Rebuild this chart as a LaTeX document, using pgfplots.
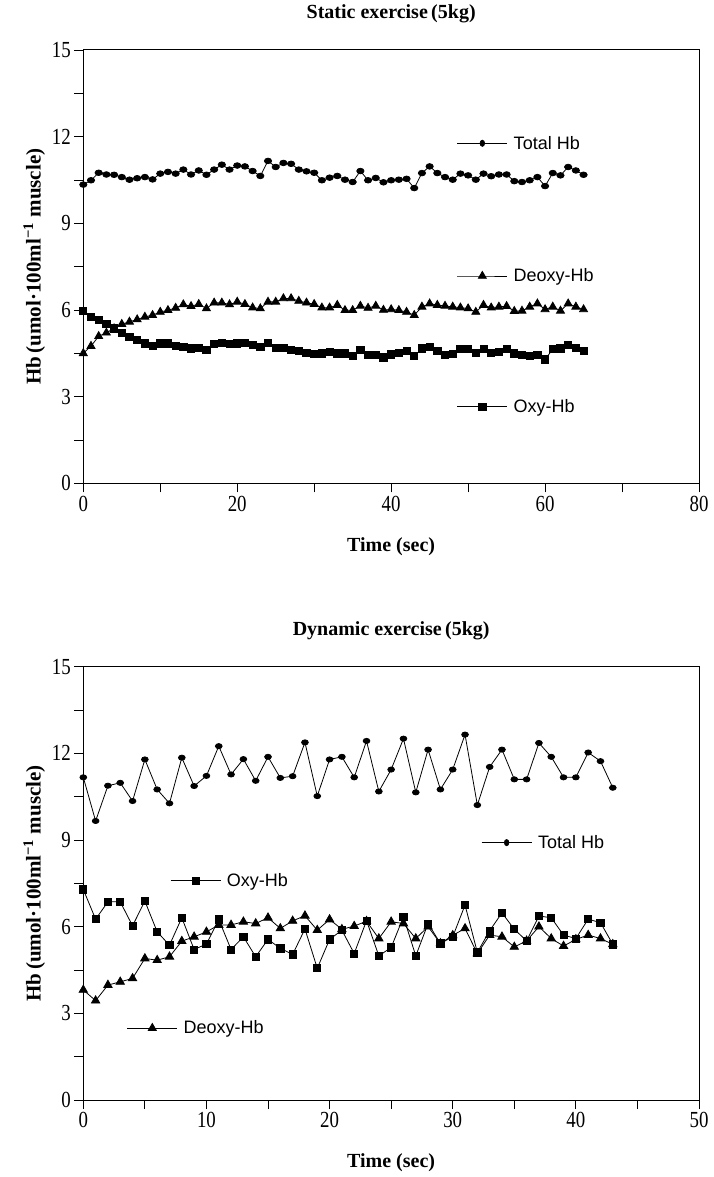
\documentclass[border=0pt]{standalone}
\usepackage{fontspec}
\setmainfont{Liberation Serif}
\newfontfamily\tickfont[FakeStretch=0.82]{Liberation Serif}
\newfontfamily\legfont{Liberation Sans}
\usepackage{pgfplots}
\pgfplotsset{compat=1.18}

\pgfplotsset{
  hbax/.style={
    scale only axis, width=615.7pt, height=433.3pt,
    ymin=0, ymax=15, ytick={0,3,...,15}, minor ytick={1.5,4.5,...,13.5},
    tick align=outside, tick pos=left,
    major tick length=9pt, minor tick length=9pt,
    tick style={line width=0.9pt, black},
    axis line style={line width=1pt, black},
    /pgf/number format/assume math mode=true,
    ticklabel style={font=\tickfont\fontsize{23}{23}\selectfont},
    title style={at={(axis description cs:0.5,1)}, anchor=center, yshift=30pt,
      font=\bfseries\fontsize{20}{22}\selectfont},
    every axis x label/.style={at={(axis description cs:0.5,0)}, anchor=center, yshift=-63pt,
      font=\bfseries\fontsize{20}{22}\selectfont},
    every axis y label/.style={at={(axis description cs:-0.0797,0.5)}, anchor=center, rotate=90,
      font=\bfseries\fontsize{21}{22}\selectfont},
    xlabel={Time (sec)},
    ylabel={Hb\,(umol·100ml\textsuperscript{−1} muscle)},
    every axis plot/.append style={line width=0.8pt, black},
    clip=false,
  },
  totm/.style={mark=*, mark size=2.8pt, mark options={solid, fill=black, xscale=1.3}},
  deom/.style={mark=triangle*, mark size=4.6pt, mark options={solid, fill=black}},
  oxym/.style={mark=square*, mark size=3.6pt, mark options={solid, fill=black}},
  legend image code/.code={\draw[mark repeat=2,mark phase=2,#1] plot coordinates {(0pt,0pt) (25pt,0pt) (50pt,0pt)};},
  legax/.style={hide axis, scale only axis, width=615.7pt, height=433.3pt,
    xmin=0, xmax=1, ymin=0, ymax=1,
    legend style={draw=none, fill=none, at={(#1)}, anchor=west, inner sep=0pt,
      font=\legfont\fontsize{18}{20}\selectfont, column sep=4pt,
      nodes={inner sep=2pt}}},
}

\begin{document}
\begin{tikzpicture}
% ---------- Static exercise ----------
\begin{axis}[hbax, xmin=0, xmax=80, xtick={0,20,...,80}, minor xtick={10,30,50,70},
  title={Static exercise\,(5kg)}]
\addplot[totm] coordinates {
(0,10.34) (1,10.49) (2,10.75) (3,10.69) (4,10.68) (5,10.60) (6,10.51) (7,10.56) (8,10.60) (9,10.52)
(10,10.72) (11,10.78) (12,10.72) (13,10.86) (14,10.69) (15,10.83) (16,10.68) (17,10.86) (18,11.03) (19,10.86)
(20,11.00) (21,10.97) (22,10.81) (23,10.64) (24,11.16) (25,10.95) (26,11.09) (27,11.06) (28,10.86) (29,10.80)
(30,10.75) (31,10.49) (32,10.58) (33,10.64) (34,10.51) (35,10.43) (36,10.81) (37,10.49) (38,10.57) (39,10.42)
(40,10.49) (41,10.51) (42,10.54) (43,10.22) (44,10.74) (45,10.97) (46,10.74) (47,10.60) (48,10.51) (49,10.72)
(50,10.66) (51,10.51) (52,10.72) (53,10.63) (54,10.69) (55,10.69) (56,10.46) (57,10.43) (58,10.49) (59,10.60)
(60,10.29) (61,10.74) (62,10.66) (63,10.95) (64,10.83) (65,10.68)};
\addplot[deom] coordinates {
(0,4.50) (1,4.75) (2,5.09) (3,5.21) (4,5.36) (5,5.51) (6,5.59) (7,5.67) (8,5.76) (9,5.82)
(10,5.93) (11,5.99) (12,6.07) (13,6.19) (14,6.13) (15,6.20) (16,6.05) (17,6.25) (18,6.25) (19,6.19)
(20,6.28) (21,6.20) (22,6.08) (23,6.05) (24,6.28) (25,6.28) (26,6.40) (27,6.40) (28,6.31) (29,6.25)
(30,6.20) (31,6.08) (32,6.08) (33,6.17) (34,5.99) (35,5.99) (36,6.14) (37,6.07) (38,6.14) (39,6.00)
(40,6.02) (41,5.99) (42,5.93) (43,5.82) (44,6.11) (45,6.22) (46,6.17) (47,6.14) (48,6.11) (49,6.08)
(50,6.05) (51,5.93) (52,6.17) (53,6.08) (54,6.11) (55,6.13) (56,5.96) (57,5.97) (58,6.11) (59,6.22)
(60,6.02) (61,6.11) (62,5.97) (63,6.22) (64,6.11) (65,6.02)};
\addplot[oxym] coordinates {
(0,5.97) (1,5.77) (2,5.65) (3,5.53) (4,5.36) (5,5.21) (6,5.07) (7,4.96) (8,4.84) (9,4.75)
(10,4.84) (11,4.84) (12,4.75) (13,4.73) (14,4.67) (15,4.70) (16,4.63) (17,4.82) (18,4.87) (19,4.82)
(20,4.84) (21,4.87) (22,4.78) (23,4.73) (24,4.87) (25,4.70) (26,4.70) (27,4.63) (28,4.59) (29,4.52)
(30,4.47) (31,4.50) (32,4.55) (33,4.50) (34,4.50) (35,4.40) (36,4.63) (37,4.44) (38,4.44) (39,4.36)
(40,4.46) (41,4.52) (42,4.58) (43,4.40) (44,4.67) (45,4.73) (46,4.59) (47,4.44) (48,4.47) (49,4.65)
(50,4.65) (51,4.52) (52,4.65) (53,4.52) (54,4.55) (55,4.65) (56,4.50) (57,4.44) (58,4.42) (59,4.44)
(60,4.29) (61,4.64) (62,4.67) (63,4.79) (64,4.69) (65,4.59)};
\end{axis}
\begin{axis}[legax={0.6065,0.7847}]
\addlegendimage{totm, line width=0.8pt, black, mark options={solid, fill=black, xscale=0.8, yscale=1.1}}
\addlegendentry{Total Hb}
\end{axis}
\begin{axis}[legax={0.6065,0.4784}]
\addlegendimage{deom, line width=0.8pt, black}
\addlegendentry{Deoxy-Hb}
\end{axis}
\begin{axis}[legax={0.6065,0.1768}]
\addlegendimage{oxym, line width=0.8pt, black}
\addlegendentry{Oxy-Hb}
\end{axis}

% ---------- Dynamic exercise ----------
\begin{axis}[hbax, at={(0pt,-616.7pt)}, xmin=0, xmax=50, xtick={0,10,...,50}, minor xtick={5,15,...,45},
  title={Dynamic exercise\,(5kg)}]
\addplot[totm, mark size=2.6pt] coordinates {
(0,11.17) (1,9.66) (2,10.88) (3,10.98) (4,10.35) (5,11.79) (6,10.75) (7,10.27) (8,11.85) (9,10.87)
(10,11.22) (11,12.25) (12,11.27) (13,11.80) (14,11.05) (15,11.88) (16,11.15) (17,11.21) (18,12.38) (19,10.52)
(20,11.79) (21,11.88) (22,11.17) (23,12.43) (24,10.68) (25,11.44) (26,12.51) (27,10.65) (28,12.13) (29,10.75)
(30,11.44) (31,12.65) (32,10.21) (33,11.53) (34,12.13) (35,11.10) (36,11.10) (37,12.36) (38,11.88) (39,11.17)
(40,11.17) (41,12.03) (42,11.73) (43,10.81)};
\addplot[oxym] coordinates {
(0,7.29) (1,6.26) (2,6.86) (3,6.86) (4,6.03) (5,6.89) (6,5.82) (7,5.36) (8,6.31) (9,5.21)
(10,5.40) (11,6.25) (12,5.21) (13,5.65) (14,4.96) (15,5.56) (16,5.25) (17,5.04) (18,5.92) (19,4.56)
(20,5.56) (21,5.88) (22,5.07) (23,6.21) (24,4.99) (25,5.28) (26,6.34) (27,4.99) (28,6.11) (29,5.42)
(30,5.65) (31,6.75) (32,5.11) (33,5.86) (34,6.48) (35,5.91) (36,5.51) (37,6.37) (38,6.31) (39,5.71)
(40,5.59) (41,6.26) (42,6.14) (43,5.39)};
\addplot[deom, mark size=4.8pt] coordinates {
(0,3.81) (1,3.44) (2,3.98) (3,4.09) (4,4.21) (5,4.90) (6,4.84) (7,4.96) (8,5.50) (9,5.65)
(10,5.82) (11,6.06) (12,6.06) (13,6.17) (14,6.11) (15,6.31) (16,5.94) (17,6.20) (18,6.38) (19,5.88)
(20,6.25) (21,5.91) (22,6.02) (23,6.19) (24,5.59) (25,6.17) (26,6.11) (27,5.59) (28,6.00) (29,5.42)
(30,5.70) (31,5.94) (32,5.07) (33,5.71) (34,5.65) (35,5.30) (36,5.51) (37,6.00) (38,5.59) (39,5.33)
(40,5.56) (41,5.71) (42,5.59) (43,5.39)};
\end{axis}
\begin{axis}[legax={0.646,0.594}, at={(0pt,-616.7pt)}]
\addlegendimage{totm, line width=0.8pt, black, mark options={solid, fill=black, xscale=0.8, yscale=1.1}}
\addlegendentry{Total Hb}
\end{axis}
\begin{axis}[legax={0.1408,0.506}, at={(0pt,-616.7pt)}]
\addlegendimage{oxym, line width=0.8pt, black}
\addlegendentry{Oxy-Hb}
\end{axis}
\begin{axis}[legax={0.0705,0.166}, at={(0pt,-616.7pt)}]
\addlegendimage{deom, line width=0.8pt, black}
\addlegendentry{Deoxy-Hb}
\end{axis}

\path (-83.3pt,483.3pt) rectangle (630.7pt,-693.7pt);
\end{tikzpicture}
\end{document}
